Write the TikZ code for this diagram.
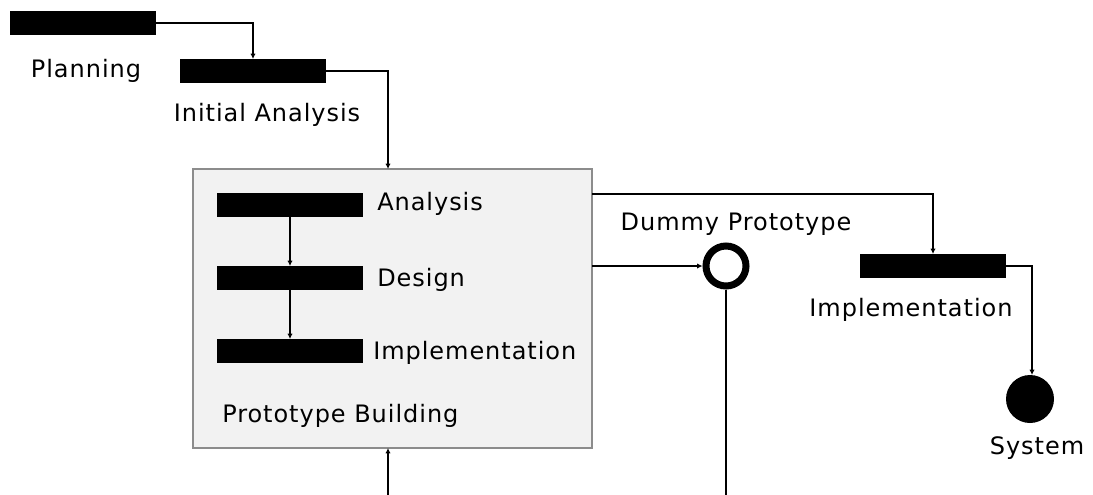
\documentclass[tikz,border=0pt]{standalone}
\usepackage{fontspec}
\newfontfamily\lblfont[LetterSpace=4]{DejaVu Sans}
\usetikzlibrary{arrows.meta}
\definecolor{boxfill}{HTML}{F2F2F2}
\definecolor{boxline}{HTML}{8C8C8C}
\tikzset{
  bar/.style={fill=black, draw=none, minimum width=146*0.75pt, minimum height=24*0.75pt, inner sep=0pt, outer sep=0pt},
  lbl/.style={font=\lblfont\fontsize{18}{21}\selectfont, inner sep=0pt},
  conn/.style={line width=1.4*0.75pt, -{Latex[length=4pt,width=4pt]}},
  stage/.style={draw=boxline, fill=boxfill, line width=2*0.75pt, inner sep=0pt, outer sep=0pt}
}
\begin{document}
\begin{tikzpicture}[x=0.75pt, y=-0.75pt]
\useasboundingbox (0,0) rectangle (1093,494);
% prototype building container
\node[stage, minimum width=399*0.75pt, minimum height=279*0.75pt] (box) at (392.5,308.5) {};
% activity bars
\node[bar] (plan) at (83,23) {};
\node[bar] (ia) at (253,71) {};
\node[bar] (an) at (290,205) {};
\node[bar] (de) at (290,278) {};
\node[bar] (im) at (290,351) {};
\node[bar] (impl) at (933,266) {};
% states
\node[circle, draw=black, line width=7*0.75pt, fill=white, minimum size=40*0.75pt, inner sep=0pt] (dummy) at (726,266) {};
\node[circle, fill=black, minimum size=48*0.75pt, inner sep=0pt, outer sep=0pt] (sys) at (1030,399) {};
% labels
\node[lbl, anchor=base] (tplan) at (86,77.7) {Planning};
\node[lbl, anchor=base] (tia) at (267,121.7) {Initial Analysis};
\node[lbl, anchor=base west] (tan) at (377,210) {Analysis};
\node[lbl, anchor=base west] (tde) at (377,286) {Design};
\node[lbl, anchor=base west] (tim) at (373,359) {Implementation};
\node[lbl, anchor=base west] (tpb) at (222,422) {Prototype Building};
\node[lbl, anchor=base] (tdummy) at (736,230) {Dummy Prototype};
\node[lbl, anchor=base] (timpl) at (911,316) {Implementation};
\node[lbl, anchor=base] (tsys) at (1037,454) {System};
% connectors
\coordinate (low) at (0,500);
\draw[conn] (plan.east) -| (ia.north);
\draw[conn] (ia.east) -| ([xshift=-4.5*0.75pt]box.north);
\draw[conn] (an.south) -- (de.north);
\draw[conn] (de.south) -- (im.north);
\draw[conn] ([yshift=-25*0.75pt]box.north east) -| (impl.north);
\draw[conn] (box.east |- dummy) -- (dummy.west);
\draw[conn] (impl.east) -| ([xshift=2*0.75pt]sys.north);
\draw[conn] (dummy.south) -- (dummy.south |- low) -| ([xshift=-4.5*0.75pt]box.south);
\end{tikzpicture}
\end{document}
